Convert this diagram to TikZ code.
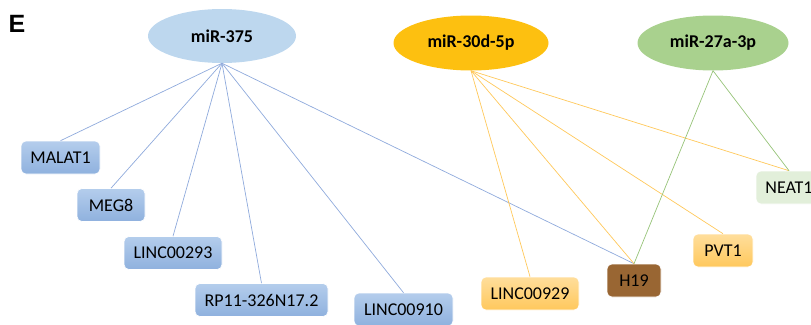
\documentclass[tikz,border=0pt]{standalone}
\usepackage{fontspec}
\setmainfont{Carlito}
\newfontfamily\headfont{Liberation Sans}
\usetikzlibrary{shapes.geometric}
\definecolor{mirblue}{RGB}{189,215,238}
\definecolor{mirgold}{RGB}{253,192,16}
\definecolor{mirgreen}{RGB}{169,209,142}
\definecolor{boxbtop}{RGB}{180,205,236}
\definecolor{boxbbot}{RGB}{143,177,222}
\definecolor{boxotop}{RGB}{255,222,156}
\definecolor{boxobot}{RGB}{255,200,92}
\definecolor{brownh}{RGB}{153,102,51}
\definecolor{paleg}{RGB}{226,239,218}
\definecolor{lineb}{RGB}{143,170,220}
\definecolor{lineo}{RGB}{255,200,90}
\definecolor{lineg}{RGB}{150,195,120}

\begin{document}
\begin{tikzpicture}[x=1pt,y=-1pt,
  mir/.style={ellipse,inner sep=0pt,font=\fontsize{18}{20}\selectfont\bfseries},
  lnc/.style={rectangle,rounded corners=5pt,draw=white,line width=0.6pt,inner sep=0pt,minimum height=33pt,font=\fontsize{18}{20}\selectfont},
  bbox/.style={lnc,top color=boxbtop,bottom color=boxbbot},
  obox/.style={lnc,top color=boxotop,bottom color=boxobot},
  bedge/.style={draw=lineb,line width=0.7pt},
  oedge/.style={draw=lineo,line width=0.7pt},
  gedge/.style={draw=lineg,line width=0.7pt}
]
\useasboundingbox (0,0) rectangle (811,324);
\node[font=\fontsize{25}{26}\selectfont\bfseries\headfont] (lab) at (17,23.5) {E};
% microRNAs
\node[mir,fill=mirblue,minimum width=148pt,minimum height=54pt] (m375) at (222,36) {miR-375};
\node[mir,fill=mirgold,minimum width=155pt,minimum height=55pt] (m30) at (471,43) {miR-30d-5p};
\node[mir,fill=mirgreen,minimum width=151pt,minimum height=55pt] (m27) at (713,43) {miR-27a-3p};
% lncRNAs
\node[bbox,minimum width=79pt] (malat) at (60.5,157.5) {MALAT1};
\node[bbox,minimum width=68pt] (meg) at (111,205) {MEG8};
\node[bbox,minimum width=98pt] (l293) at (173,253) {LINC00293};
\node[bbox,minimum width=133pt] (rp) at (261.5,300) {RP11-326N17.2};
\node[bbox,minimum width=99pt] (l910) at (403.5,309.5) {LINC00910};
\node[obox,minimum width=98pt] (l929) at (530,293.5) {LINC00929};
\node[lnc,fill=brownh,minimum width=54pt] (h19) at (634,280.5) {H19};
\node[obox,minimum width=60pt] (pvt) at (723,250.5) {PVT1};
\node[lnc,fill=paleg,minimum width=66pt] (neat) at (789,187.5) {NEAT1};
% edges
\foreach \t in {malat,meg,l293,rp,l910,h19}
  \draw[bedge] (m375.south) -- (\t.north);
\foreach \t in {l929,h19,pvt,neat}
  \draw[oedge] (m30.south) -- (\t.north);
\foreach \t in {h19,neat}
  \draw[gedge] (m27.south) -- (\t.north);
\end{tikzpicture}
\end{document}
